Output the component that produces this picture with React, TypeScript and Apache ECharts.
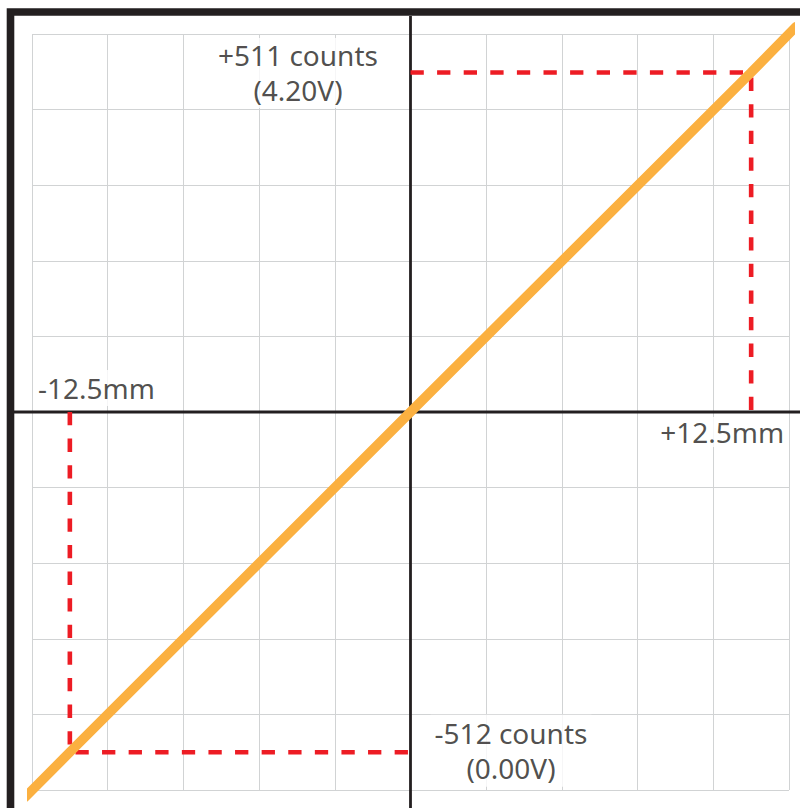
import React, { useEffect, useRef } from "react";
import * as echarts from "echarts";

// Reference values
const positionRangeMm = [-12.5, 12.5];
const countRange = [-512, 511];
const voltLabels = ["0.00V", "4.20V"];
// transfer line (mm -> counts), ends run slightly past the grid
const transferMm = [-14.15, -12.5, 0, 12.5, 14.15];
const transferCounts = [-580, -512, 0, 511, 580];
// extents of the drawn zero axes
const axisExtentMm = [-14.6, 14.6];
const axisExtentCounts = [-596, 596];
// grid scale: 12.5 mm and 512 counts = 4.5 cells, 5 cells each side
const mmPerCell = 25 / 9;
const countsPerCell = 1024 / 9;
const cellsPerSide = 5;

const INK = "#231f20";
const RED = "#ed1c24";
const ORANGE = "#fbb040";
const GRIDC = "#d1d3d4";
const FONT = "'Noto Sans', 'Open Sans', sans-serif";

export default function App() {
  const ref = useRef<HTMLDivElement>(null);
  useEffect(() => {
    if (!ref.current) return;
    const chart = echarts.init(ref.current, undefined, { renderer: "svg" });

    const baseLabel = {
      show: true,
      position: "inside",
      fontFamily: FONT,
      fontSize: 28,
      color: INK,
      backgroundColor: "#ffffff",
      align: "center",
      verticalAlign: "middle",
    };

    const dashed = { color: RED, width: 4.6, type: [13.3, 13.3], cap: "butt", join: "miter" };

    const option: any = {
      animation: false,
      backgroundColor: "#ffffff",
      grid: { left: 32, top: 34, right: 11, bottom: 18 },
      xAxis: {
        type: "value",
        min: -cellsPerSide * mmPerCell,
        max: cellsPerSide * mmPerCell,
        interval: mmPerCell,
        axisLine: { show: false },
        axisTick: { show: false },
        axisLabel: { show: false },
        splitLine: { show: true, lineStyle: { color: GRIDC, width: 1 } },
      },
      yAxis: {
        type: "value",
        min: -cellsPerSide * countsPerCell,
        max: cellsPerSide * countsPerCell,
        interval: countsPerCell,
        axisLine: { show: false },
        axisTick: { show: false },
        axisLabel: { show: false },
        splitLine: { show: true, lineStyle: { color: GRIDC, width: 1 } },
      },
      series: [
        {
          type: "line",
          silent: true,
          clip: false,
          symbol: "none",
          data: [
            [0, countRange[1]],
            [positionRangeMm[1], countRange[1]],
            [positionRangeMm[1], 0],
          ],
          lineStyle: dashed,
          z: 3,
        },
        {
          type: "line",
          silent: true,
          clip: false,
          symbol: "none",
          data: [
            [positionRangeMm[0], 0],
            [positionRangeMm[0], countRange[0]],
            [0, countRange[0]],
          ],
          lineStyle: dashed,
          z: 3,
        },
        {
          type: "line",
          silent: true,
          clip: false,
          symbol: "none",
          data: transferMm.map((x, i) => [x, transferCounts[i]]),
          lineStyle: { color: ORANGE, width: 9.6, cap: "round" },
          z: 4,
        },
        {
          type: "scatter",
          silent: true,
          clip: false,
          symbolSize: 0,
          z: 5,
          data: [
            {
              value: [0, countRange[1]],
              label: {
                ...baseLabel,
                formatter: `+${countRange[1]} counts\n(${voltLabels[1]})`,
                lineHeight: 35,
                padding: [0, 4, 0, 4],
                offset: [-112.5, 0.5],
              },
            },
            {
              value: [0, countRange[0]],
              label: {
                ...baseLabel,
                formatter: `${countRange[0]} counts\n(${voltLabels[0]})`,
                lineHeight: 35,
                padding: [0, 4, 2, 4],
                offset: [100.5, -1.5],
              },
            },
            {
              value: [positionRangeMm[0], 0],
              label: {
                ...baseLabel,
                formatter: `${positionRangeMm[0]}mm`,
                lineHeight: 30,
                padding: [3, 4, 3, 4],
                offset: [26.5, -24],
              },
            },
            {
              value: [positionRangeMm[1], 0],
              label: {
                ...baseLabel,
                formatter: `+${positionRangeMm[1]}mm`,
                lineHeight: 26,
                padding: [2, 4, 2, 4],
                offset: [-29, 20],
              },
            },
          ],
        },
      ],
    };

    chart.setOption(option);

    // zero axes and frame, placed through the chart's own scales
    const toPx = (p: number[]) => chart.convertToPixel({ gridIndex: 0 }, p) as number[];
    const v0 = toPx([0, axisExtentCounts[0]]);
    const v1 = toPx([0, axisExtentCounts[1]]);
    const h0 = toPx([axisExtentMm[0], 0]);
    const h1 = toPx([axisExtentMm[1], 0]);
    chart.setOption({
      graphic: [
        {
          type: "line",
          silent: true,
          z: 1,
          shape: { x1: v0[0], y1: v0[1], x2: v1[0], y2: v1[1] },
          style: { stroke: INK, lineWidth: 2.8 },
        },
        {
          type: "line",
          silent: true,
          z: 1,
          shape: { x1: h0[0], y1: h0[1], x2: h1[0], y2: h1[1] },
          style: { stroke: INK, lineWidth: 2.8 },
        },
        {
          type: "rect",
          z: 100,
          silent: true,
          shape: { x: 10.5, y: 12, width: 1200, height: 1200 },
          style: { fill: "none", stroke: INK, lineWidth: 7.6 },
        },
      ],
    });
    return () => chart.dispose();
  }, []);

  return (
    <div
      ref={ref}
      style={{ position: "absolute", left: 0, top: 0, width: 800, height: 808, background: "#fff" }}
    />
  );
}
